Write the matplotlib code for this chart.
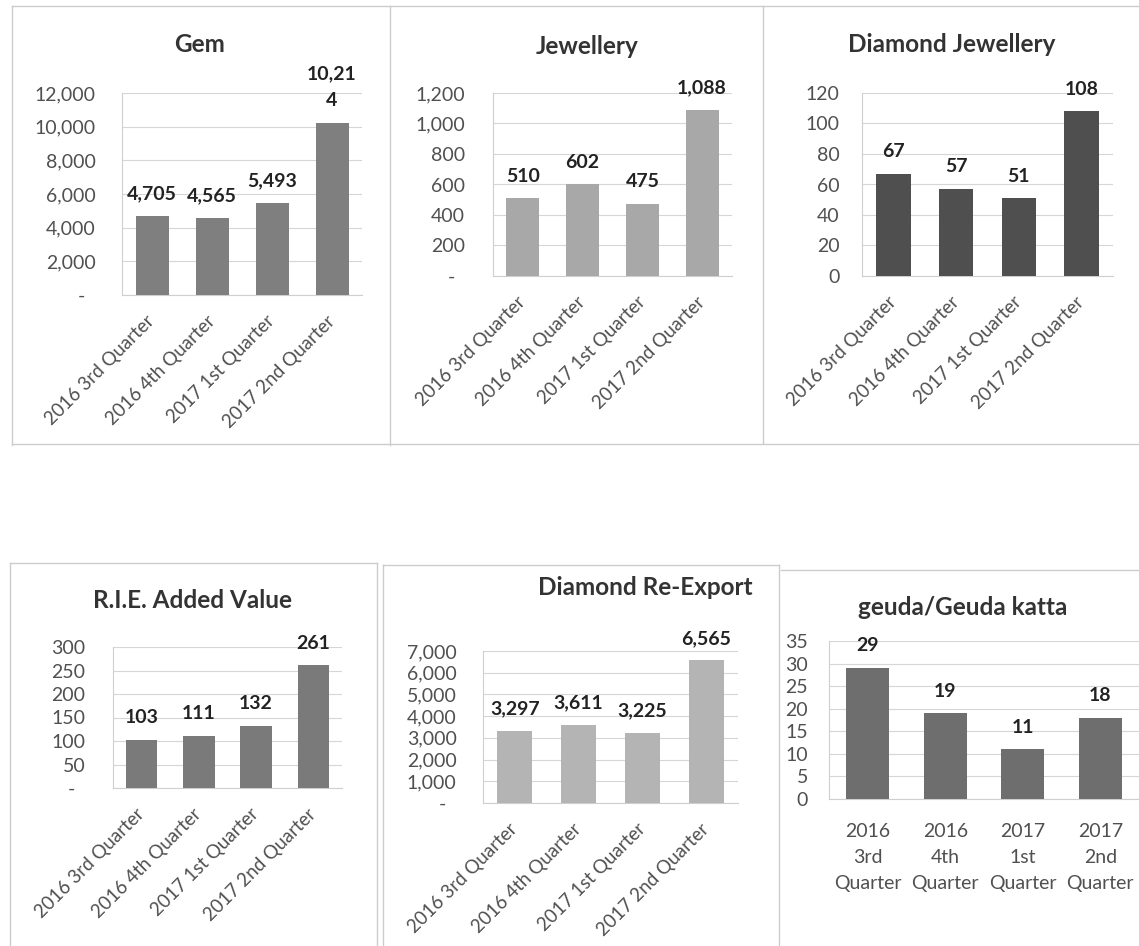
import matplotlib
matplotlib.use("Agg")
import matplotlib.pyplot as plt
from matplotlib.lines import Line2D
from matplotlib.ticker import FuncFormatter, MultipleLocator

plt.rcParams['font.family'] = ['Lato', 'DejaVu Sans']

W, H = 1139, 946

quarters = ['2016 3rd Quarter', '2016 4th Quarter', '2017 1st Quarter', '2017 2nd Quarter']
quarters_stacked = ['2016\n3rd\nQuarter', '2016\n4th\nQuarter', '2017\n1st\nQuarter', '2017\n2nd\nQuarter']

gem = [4705, 4565, 5493, 10214]
jewellery = [510, 602, 475, 1088]
diamond_jewellery = [67, 57, 51, 108]
rie_added_value = [103, 111, 132, 261]
diamond_reexport = [3297, 3611, 3225, 6565]
geuda = [29, 19, 11, 18]


def px_rect(left, top, right, bottom):
    return [left / W, 1 - bottom / H, (right - left) / W, (bottom - top) / H]


def thousands(dash_zero):
    def fmt(v, pos):
        if abs(v) < 1e-9:
            # accounting style: dash sits in from the right edge
            return '-  ' if dash_zero else '0'
        return f'{v:,.0f}'
    return FuncFormatter(fmt)


def value_text(v):
    s = f'{v:,}'
    # the widest label wraps onto a second line
    if len(s) > 5:
        s = s[:5] + '\n' + s[5:]
    return s


def bar_panel(fig, rect, values, color, ymax, step, title, title_xy,
              dash_zero=True, labels=quarters, rotated=True, ypad=18):
    ax = fig.add_axes(px_rect(*rect))
    x = range(len(values))
    ax.bar(x, values, width=0.55, color=color, zorder=3)
    ax.set_xlim(-0.5, len(values) - 0.5)
    ax.set_ylim(0, ymax)
    ax.yaxis.set_major_locator(MultipleLocator(step))
    ax.yaxis.set_major_formatter(thousands(dash_zero))
    ax.grid(axis='y', color='#d6d6d6', lw=0.8, zorder=0)
    for s in ['top', 'right']:
        ax.spines[s].set_visible(False)
    for s in ['left', 'bottom']:
        ax.spines[s].set_color('#cfcfcf')
        ax.spines[s].set_linewidth(0.8)
    ax.tick_params(axis='y', length=0, pad=ypad, labelsize=14, labelcolor='#505050')
    ax.set_xticks(list(x))
    if rotated:
        ax.set_xticklabels(labels, rotation=45, ha='right', va='center',
                           rotation_mode='anchor', fontsize=13.5, color='#505050')
        ax.tick_params(axis='x', length=0, pad=17)
    else:
        ax.set_xticklabels(labels, fontsize=14, color='#505050',
                           linespacing=1.65)
        ax.tick_params(axis='x', length=0, pad=17)
    for xi, v in zip(x, values):
        ax.annotate(value_text(v), (xi, v), xytext=(0, 12), textcoords='offset points',
                    ha='center', va='baseline', fontsize=14, fontweight='bold',
                    color='#222222', linespacing=1.75, annotation_clip=False)
    fig.text(title_xy[0] / W, 1 - title_xy[1] / H, title, ha='center', va='center',
             fontsize=17.5, fontweight='bold', color='#333333')
    return ax


fig = plt.figure(figsize=(W / 100, H / 100), dpi=100)
fig.patch.set_facecolor('white')

# panel frames
frame_segments = [
    ((12, 6), (1139, 6)), ((12, 6), (12, 445)), ((390, 6), (390, 445)),
    ((763, 6), (763, 443)), ((12, 444), (1139, 444)),
    ((10, 563), (10, 946)), ((10, 563), (377, 563)), ((377, 563), (377, 946)),
    ((383, 565), (383, 946)), ((383, 565), (779, 565)), ((779, 565), (779, 946)),
    ((781, 570), (1139, 570)),
]
for (x0, y0), (x1, y1) in frame_segments:
    fig.add_artist(Line2D([x0 / W, x1 / W], [1 - y0 / H, 1 - y1 / H],
                          transform=fig.transFigure, color='#cccccc', lw=1.0))

bar_panel(fig, (122, 93, 362, 295), gem, '#7f7f7f', 12000, 2000, 'Gem', (200, 45),
          ypad=19)
bar_panel(fig, (493, 93, 732, 276), jewellery, '#a8a8a8', 1200, 200, 'Jewellery',
          (587, 47), ypad=20)
bar_panel(fig, (862, 93, 1113, 276), diamond_jewellery, '#4f4f4f', 120, 20,
          'Diamond Jewellery', (952, 45), dash_zero=False, ypad=16)
bar_panel(fig, (113, 647, 342, 788), rie_added_value, '#7a7a7a', 300, 50,
          'R.I.E. Added Value', (193, 600), ypad=20)
bar_panel(fig, (483, 651, 738, 803), diamond_reexport, '#b4b4b4', 7000, 1000,
          'Diamond Re-Export', (645, 587), ypad=19)
bar_panel(fig, (829, 641, 1139, 799), geuda, '#6e6e6e', 35, 5,
          'geuda/Geuda katta', (963, 607), dash_zero=False,
          labels=quarters_stacked, rotated=False, ypad=15)

fig.savefig('out.png', dpi=100, facecolor='white')
